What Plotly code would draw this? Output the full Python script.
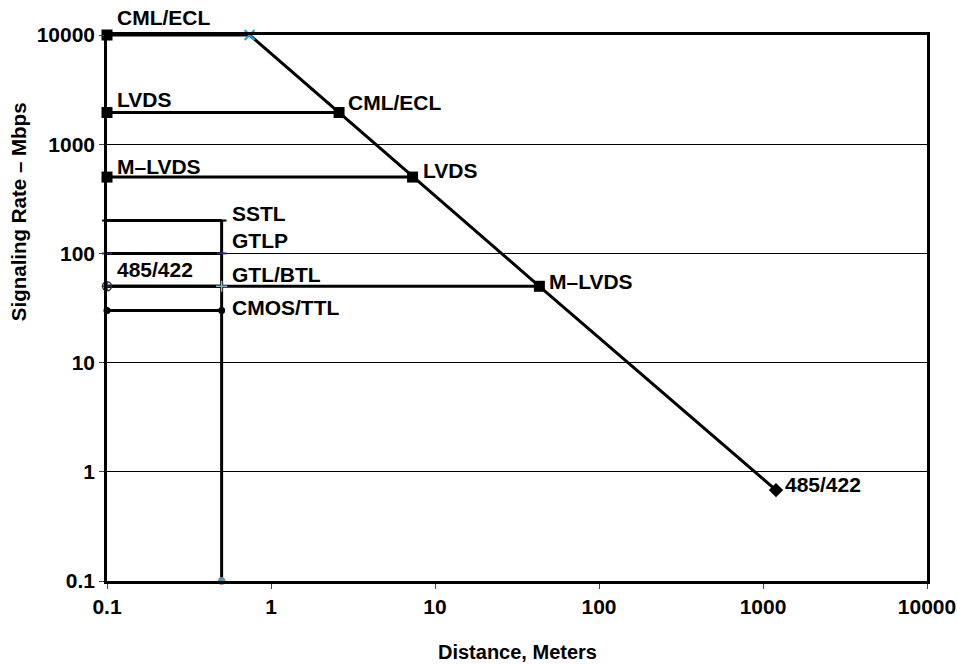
import numpy as np
import plotly.graph_objects as go

# ---- data ----
diag_x = [0.74, 2.6, 7.3, 43.3, 1200]
diag_y = [10000, 1950, 500, 50, 0.68]
diag_names = ["", "CML/ECL", "LVDS", "M\u2013LVDS", "485/422"]

# horizontal segments from left axis (x=0.1) to given x at level y
left_names = ["CML/ECL", "LVDS", "M\u2013LVDS", "485/422"]
left_y = [10000, 1950, 500, 50]
left_end_x = [0.74, 2.6, 7.3, 43.3]

# short-reach technologies ending at x=0.5
short_names = ["SSTL", "GTLP", "GTL/BTL", "CMOS/TTL"]
short_y = [200, 100, 50, 30]
short_x0 = 0.1
short_x1 = 0.5
vert_bottom = 0.1

x_ticks = [0.1, 1, 10, 100, 1000, 10000]
x_ticktext = ["0.1", "1", "10", "100", "1000", "10000"]
y_ticks = [0.1, 1, 10, 100, 1000, 10000]
y_ticktext = ["0.1", "1", "10", "100", "1000", "10000"]

FONT = "Liberation Sans, Arial, sans-serif"
LW = 3

fig = go.Figure()

# horizontal long lines
for nm, yv, xe in zip(left_names, left_y, left_end_x):
    fig.add_trace(go.Scatter(x=[short_x0, xe], y=[yv, yv], mode="lines",
                             line=dict(color="black", width=LW), showlegend=False,
                             hoverinfo="skip"))

# short lines
for nm, yv in zip(short_names, short_y):
    fig.add_trace(go.Scatter(x=[short_x0, short_x1], y=[yv, yv], mode="lines",
                             line=dict(color="black", width=LW), showlegend=False,
                             hoverinfo="skip"))
# vertical line at x=0.5
fig.add_trace(go.Scatter(x=[short_x1, short_x1], y=[short_y[0], vert_bottom], mode="lines",
                         line=dict(color="black", width=LW), showlegend=False, hoverinfo="skip"))

# diagonal
fig.add_trace(go.Scatter(x=diag_x, y=diag_y, mode="lines",
                         line=dict(color="black", width=LW), showlegend=False, hoverinfo="skip"))

# markers
# squares at left axis
fig.add_trace(go.Scatter(x=[short_x0] * 3, y=left_y[:3], mode="markers",
                         marker=dict(symbol="square", size=11, color="black"),
                         showlegend=False, cliponaxis=False))
# squares on diagonal
fig.add_trace(go.Scatter(x=diag_x[1:4], y=diag_y[1:4], mode="markers",
                         marker=dict(symbol="square", size=11, color="black"),
                         showlegend=False, cliponaxis=False))
# cyan x
fig.add_trace(go.Scatter(x=[diag_x[0]], y=[diag_y[0]], mode="markers",
                         marker=dict(symbol="x-thin", size=10, color="#1aa7e8",
                                     line=dict(color="#1aa7e8", width=2)),
                         showlegend=False, cliponaxis=False))
# diamond end
fig.add_trace(go.Scatter(x=[diag_x[4]], y=[diag_y[4]], mode="markers",
                         marker=dict(symbol="diamond", size=11, color="black"),
                         showlegend=False, cliponaxis=False))
# SSTL dashes
fig.add_trace(go.Scatter(x=[short_x0, short_x1], y=[short_y[0]] * 2, mode="markers",
                         marker=dict(symbol="line-ew", size=7, color="black",
                                     line=dict(color="black", width=2)),
                         showlegend=False, cliponaxis=False))
# GTLP dashes
fig.add_trace(go.Scatter(x=[short_x0, short_x1], y=[short_y[1]] * 2, mode="markers",
                         marker=dict(symbol="line-ew", size=7, color="#3b1a8c",
                                     line=dict(color="#3b1a8c", width=2)),
                         showlegend=False, cliponaxis=False))
# GTL/BTL markers
fig.add_trace(go.Scatter(x=[short_x0], y=[short_y[2]], mode="markers",
                         marker=dict(symbol="circle-cross-open", size=9, color="#2a2a44",
                                     line=dict(color="#2a2a44", width=1.5)),
                         showlegend=False, cliponaxis=False))
fig.add_trace(go.Scatter(x=[short_x1], y=[short_y[2]], mode="markers",
                         marker=dict(symbol="cross-thin", size=8, color="#7fb8d8",
                                     line=dict(color="#7fb8d8", width=1.5)),
                         showlegend=False, cliponaxis=False))
# CMOS/TTL circles
fig.add_trace(go.Scatter(x=[short_x0, short_x1], y=[short_y[3]] * 2, mode="markers",
                         marker=dict(symbol="circle", size=7, color="black"),
                         showlegend=False, cliponaxis=False))
# bottom of vertical
fig.add_trace(go.Scatter(x=[short_x1], y=[vert_bottom], mode="markers",
                         marker=dict(symbol="circle", size=7, color="#3a9ad9",
                                     line=dict(color="#8a8a8a", width=1)),
                         showlegend=False, cliponaxis=False))

lab_font = dict(family=FONT, size=21, color="black", weight="bold")
annots = []


def lab(x, y, text, dx, dy):
    annots.append(dict(x=np.log10(x), y=np.log10(y), xref="x", yref="y", text=text,
                       showarrow=False, xanchor="left", yanchor="middle",
                       xshift=dx, yshift=dy, font=lab_font))


# left labels
lab(short_x0, left_y[0], left_names[0], 8, 18)
lab(short_x0, left_y[1], left_names[1], 8, 13)
lab(short_x0, left_y[2], left_names[2], 8, 11)
lab(short_x0, left_y[3], left_names[3], 8, 17)
# short labels
lab(short_x1, short_y[0], short_names[0], 8, 7)
lab(short_x1, short_y[1], short_names[1], 8, 13)
lab(short_x1, short_y[2], short_names[2], 8, 12)
lab(short_x1, short_y[3], short_names[3], 8, 3)
# diagonal labels
lab(diag_x[1], diag_y[1], diag_names[1], 7, 10)
lab(diag_x[2], diag_y[2], diag_names[2], 8, 7)
lab(diag_x[3], diag_y[3], diag_names[3], 8, 5)
lab(diag_x[4], diag_y[4], diag_names[4], 7, 6)

# axis titles
annots.append(dict(x=0.5, y=-0.130, xref="paper", yref="paper", text="Distance, Meters",
                   showarrow=False, xanchor="center", yanchor="middle",
                   font=dict(family=FONT, size=20, color="black", weight="bold")))
annots.append(dict(x=-0.107, y=0.676, xref="paper", yref="paper", text="Signaling Rate \u2013 Mbps",
                   showarrow=False, xanchor="center", yanchor="middle", textangle=-90,
                   font=dict(family=FONT, size=20.5, color="black", weight="bold")))

fig.update_layout(
    width=957, height=664,
    margin=dict(l=107, r=30, t=35, b=83, autoexpand=False),
    paper_bgcolor="white", plot_bgcolor="white",
    annotations=annots,
    font=dict(family=FONT, color="black"),
)
fig.update_xaxes(type="log", range=[-1, 4], tickvals=x_ticks, ticktext=x_ticktext,
                 showgrid=False, zeroline=False, ticks="outside", ticklen=5,
                 tickcolor="#444", tickwidth=1, automargin=False,
                 showline=True, linecolor="black", linewidth=2.5, mirror=True,
                 tickfont=dict(family=FONT, size=21, color="black", weight="bold"))
fig.update_yaxes(type="log", range=[-1, 4], tickvals=y_ticks, ticktext=y_ticktext,
                 showgrid=True, gridcolor="black", gridwidth=1, zeroline=False,
                 ticks="outside", ticklen=5, tickcolor="#444", tickwidth=1, automargin=False,
                 showline=True, linecolor="black", linewidth=2.5, mirror=True,
                 tickfont=dict(family=FONT, size=21, color="black", weight="bold"))

fig.write_html("out.html", config={"displayModeBar": False},
               post_script="document.body.style.margin='0';document.body.style.overflow='hidden';")
